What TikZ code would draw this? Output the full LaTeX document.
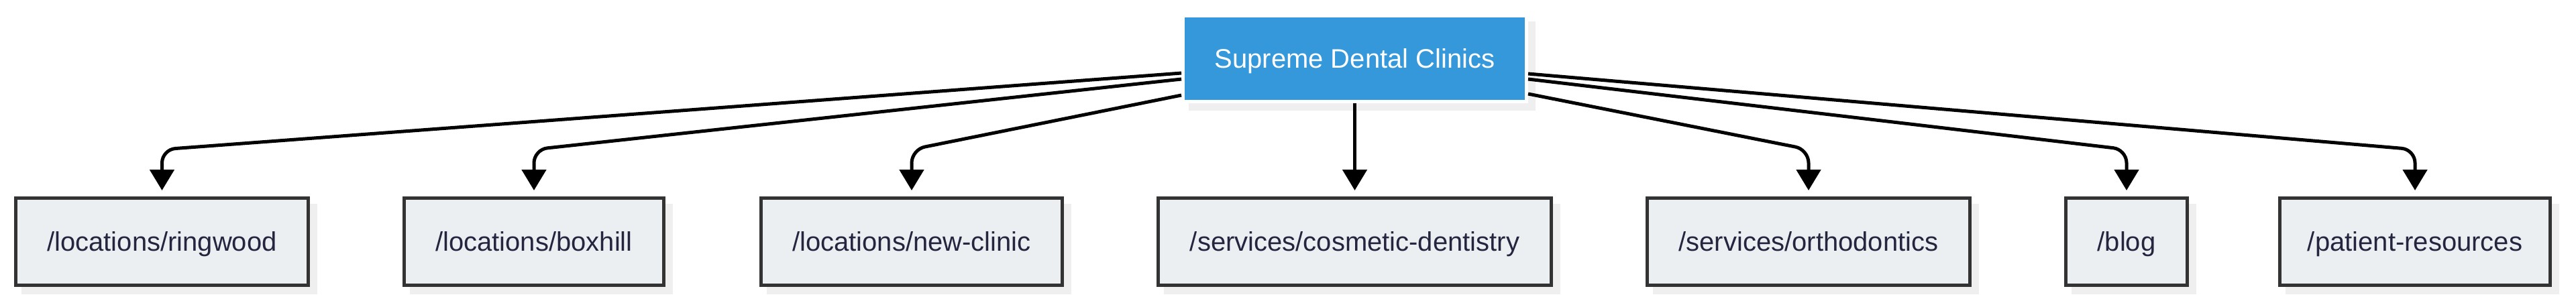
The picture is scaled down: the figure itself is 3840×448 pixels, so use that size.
\documentclass[tikz,border=0pt]{standalone}
\usepackage{fontspec}
\setmainfont{Liberation Sans}
\usetikzlibrary{arrows.meta,calc,backgrounds}
\definecolor{rootblue}{HTML}{3498DB}
\definecolor{leaffill}{HTML}{ECEFF1}
\definecolor{leafborder}{HTML}{333333}
\definecolor{leaftext}{HTML}{252540}
\definecolor{shd}{HTML}{EFEFEF}
\begin{document}
\begin{tikzpicture}[x=1pt,y=-1pt,
  box/.style={rectangle, line width=5pt, inner xsep=47pt, inner ysep=0pt,
    minimum height=130pt, text height=36pt, text depth=9pt,
    font=\fontsize{40}{48}\selectfont, anchor=center},
  leaf/.style={box, draw=leafborder, fill=leaffill, text=leaftext},
  rootbox/.style={box, draw=white, fill=rootblue, text=white, minimum height=128pt},
  edge/.style={draw=black, line width=5pt, rounded corners=20pt,
    -{Triangle[length=31pt,width=36pt]}, shorten >=9pt}
]
\useasboundingbox (0,0) rectangle (3840,448);

\node[rootbox] (root) at (2019.5,87.5) {Supreme Dental Clinics};

\node[leaf] (ringwood) at (241.5,360.5) {/locations/ringwood};
\node[leaf] (boxhill) at (796,360.5) {/locations/boxhill};
\node[leaf] (newclinic) at (1359,360.5) {/locations/new-clinic};
\node[leaf] (cosmetic) at (2019.5,360.5) {/services/cosmetic-dentistry};
\node[leaf] (ortho) at (2696,360.5) {/services/orthodontics};
\node[leaf] (blog) at (3170,360.5) {/blog};
\node[leaf, inner xsep=41pt] (patient) at (3600,360.5) {/patient-resources};

\begin{scope}[on background layer]
  \foreach \n in {root,ringwood,boxhill,newclinic,cosmetic,ortho,blog,patient}
    \fill[shd] ([xshift=11pt,yshift=-11pt]\n.north west) rectangle ([xshift=11pt,yshift=-11pt]\n.south east);
\end{scope}

\draw[edge] ($(root.west)+(0,21.5)$) -- ($(ringwood.north)+(0,-70)$) -- (ringwood.north);
\draw[edge] ($(root.west)+(0,30.5)$) -- ($(boxhill.north)+(0,-70)$) -- (boxhill.north);
\draw[edge] ($(root.west)+(0,54.5)$) -- ($(newclinic.north)+(0,-70)$) -- (newclinic.north);
\draw[edge] (root.south) -- (cosmetic.north);
\draw[edge] ($(root.east)+(0,52.5)$) -- ($(ortho.north)+(0,-70)$) -- (ortho.north);
\draw[edge] ($(root.east)+(0,30.5)$) -- ($(blog.north)+(0,-70)$) -- (blog.north);
\draw[edge] ($(root.east)+(0,22.5)$) -- ($(patient.north)+(0,-70)$) -- (patient.north);
\end{tikzpicture}
\end{document}
